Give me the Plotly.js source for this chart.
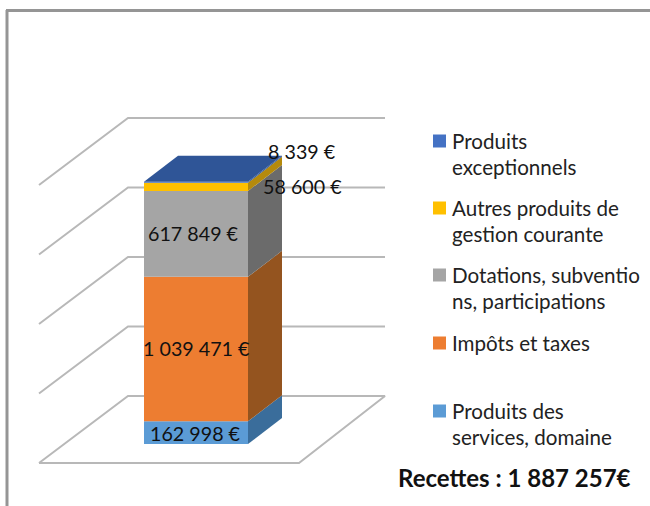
<!DOCTYPE html>
<html><head><meta charset="utf-8">
<script src="https://cdn.plot.ly/plotly-3.0.1.min.js"></script>
<style>html,body{margin:0;padding:0;background:#fff}#c{width:650px;height:506px}</style></head>
<body><div id="c"></div>
<script>
// Data (bottom to top of the stack)
const categories = ["Produits des<br>services, domaine","Impôts et taxes","Dotations, subventio<br>ns, participations","Autres produits de<br>gestion courante","Produits<br>exceptionnels"];
const values = [162998, 1039471, 617849, 58600, 8339];
const valueLabels = ["162 998 €","1 039 471 €","617 849 €","58 600 €","8 339 €"];
const frontColors = ["#5B9BD5","#ED7D31","#A5A5A5","#FFC000","#4472C4"];
const sideColors = ["#3A6D9B","#94541F","#6B6B6B","#B58A0C","#2F5597"];
const legendColors = ["#5B9BD5","#ED7D31","#A5A5A5","#FFC000","#4472C4"];
const gridLevels = [0, 500000, 1000000, 1500000, 2000000];
const totalLabel = "Recettes : 1 887 257€";

// Oblique projection, in axis units
const W = 650, H = 506;
const pxPerVal = 278 / 2000000;
const floorPx = 463;
const vPerPx = 1 / pxPerVal;
const yRange = [(floorPx - H) * vPerPx, floorPx * vPerPx];
const xRange = [0, W];
const px = p => (floorPx - p) * vPerPx;   // page pixel row -> axis value

const wall = {x0: 39, dx: 89, dv: 67 * vPerPx, x1: 385, floorFrontX: 299};
const bar = {x0: 144, x1: 248, dx: 34, dv: 26 * vPerPx, base: 19 * vPerPx};

const traces = [];
const gridStyle = {color: "#b8b8b8", width: 2};
gridLevels.forEach(g => {
  const xs = g === 0
    ? [wall.x0, wall.x0 + wall.dx, wall.x1, wall.floorFrontX, wall.x0]
    : [wall.x0, wall.x0 + wall.dx, wall.x1];
  const ys = g === 0
    ? [g, g + wall.dv, g + wall.dv, g, g]
    : [g, g + wall.dv, g + wall.dv];
  traces.push({type: "scatter", mode: "lines", x: xs, y: ys, line: gridStyle, hoverinfo: "skip", showlegend: false});
});

let cum = 0;
const annotations = [];
const labelPos = [{x: 195, row: 433}, {x: 196, row: 348}, {x: 193, row: 233}, {x: 302, row: 186}, {x: 302, row: 151}];
values.forEach((v, i) => {
  const b = cum + bar.base, t = b + v;
  traces.push({type: "bar", x: [(bar.x0 + bar.x1) / 2], y: [v], base: [b], width: [bar.x1 - bar.x0],
    name: categories[i].replace("<br>", " "), marker: {color: frontColors[i], line: {width: 0}},
    xaxis: "x2", yaxis: "y2", showlegend: false, hoverinfo: "skip"});
  traces.push({type: "scatter", mode: "lines", fill: "toself", fillcolor: sideColors[i], line: {width: 0, color: sideColors[i]},
    x: [bar.x1, bar.x1 + bar.dx, bar.x1 + bar.dx, bar.x1, bar.x1],
    y: [b, b + bar.dv, t + bar.dv, t, b],
    xaxis: "x2", yaxis: "y2", showlegend: false, hoverinfo: "skip"});
  cum += v;
});
// top face
const topV = cum + bar.base;
traces.push({type: "scatter", mode: "lines", fill: "toself", fillcolor: sideColors[4], line: {width: 0, color: sideColors[4]},
  x: [bar.x0, bar.x1, bar.x1 + bar.dx, bar.x0 + bar.dx, bar.x0],
  y: [topV, topV, topV + bar.dv, topV + bar.dv, topV],
  xaxis: "x2", yaxis: "y2", showlegend: false, hoverinfo: "skip"});

// Value labels
const FONT = "Lato, Carlito, 'Open Sans', sans-serif";
valueLabels.forEach((txt, i) => {
  annotations.push({x: labelPos[i].x, y: px(labelPos[i].row), xref: "x2", yref: "y2", text: txt, showarrow: false,
    font: {family: FONT, size: 19.7, color: "#111"}, xanchor: "center", yanchor: "middle"});
});

// Legend, top entry first
const legendTopRow = [411, 343, 275, 208, 141];
const lineStep = 26;
const swatch = {type: "scatter", mode: "markers", x: [], y: [], marker: {symbol: "square", size: 13, color: legendColors, line: {width: 0}},
  xaxis: "x2", yaxis: "y2", showlegend: false, hoverinfo: "skip"};
categories.forEach((name, i) => {
  swatch.x.push(439.5); swatch.y.push(px(legendTopRow[i]));
  name.split("<br>").forEach((ln, k) => {
    annotations.push({x: 450, y: px(legendTopRow[i] + k * lineStep), xref: "x2", yref: "y2", text: ln, showarrow: false,
      font: {family: FONT, size: 20.6, color: "#222"}, xanchor: "left", yanchor: "middle"});
  });
});
traces.push(swatch);

annotations.push({x: 514.5, y: px(477), xref: "x2", yref: "y2", text: "<b>" + totalLabel + "</b>", showarrow: false,
  font: {family: FONT, size: 24, color: "#111"}, xanchor: "center", yanchor: "middle"});

const axis = {visible: false, fixedrange: true, showgrid: false, zeroline: false};
const frame = {color: "#959595", width: 3};
const layout = {
  width: W, height: H, margin: {l: 0, r: 0, t: 0, b: 0},
  paper_bgcolor: "#fff", plot_bgcolor: "#fff", showlegend: false, barmode: "overlay",
  xaxis: {...axis, range: xRange, domain: [0, 1]},
  yaxis: {...axis, range: yRange, domain: [0, 1]},
  xaxis2: {...axis, range: xRange, overlaying: "x"},
  yaxis2: {...axis, range: yRange, overlaying: "y"},
  annotations,
  shapes: [
    {type: "line", xref: "paper", yref: "paper", x0: 6 / W, x1: 1, y0: 1 - 10.5 / H, y1: 1 - 10.5 / H, line: frame},
    {type: "line", xref: "paper", yref: "paper", x0: 7 / W, x1: 7 / W, y0: 0, y1: 1 - 10 / H, line: frame}
  ]
};
Plotly.newPlot("c", traces, layout, {displayModeBar: false, staticPlot: true});
</script></body></html>
